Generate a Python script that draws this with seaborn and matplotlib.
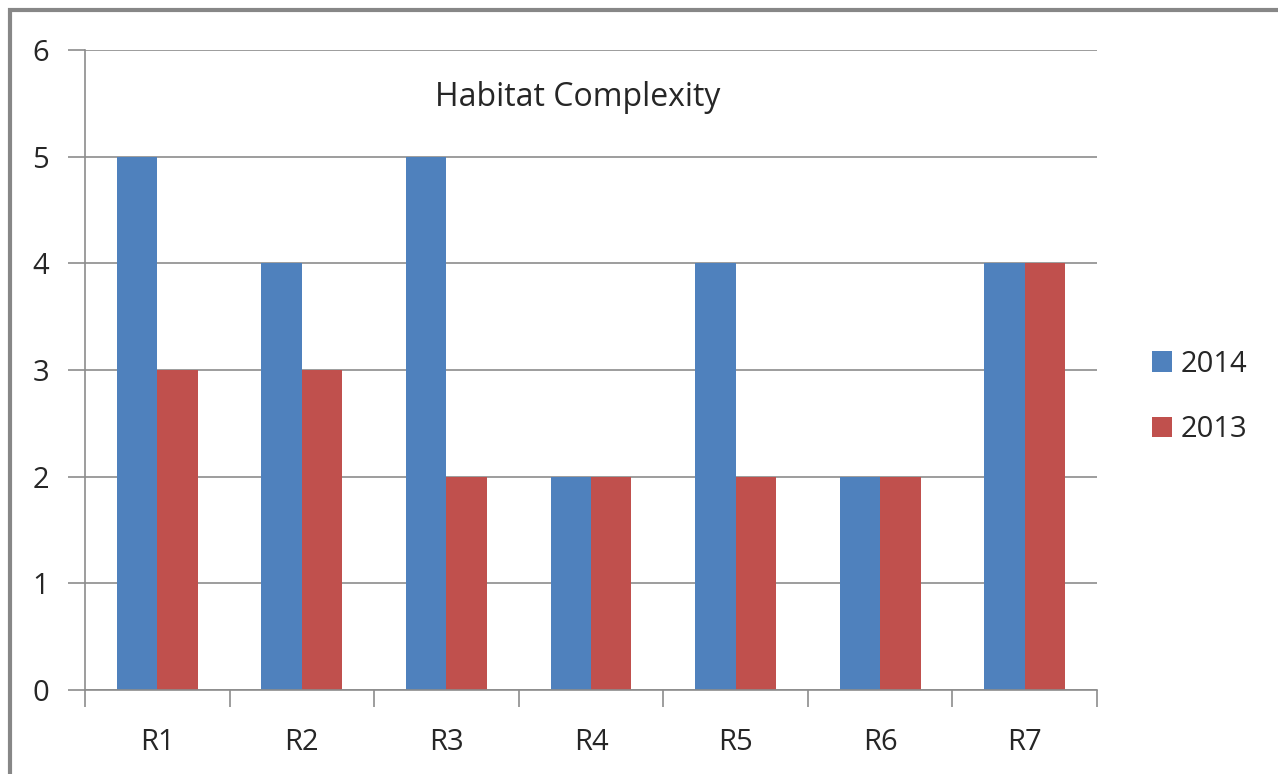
import pandas as pd
import seaborn as sns
import matplotlib.pyplot as plt
from matplotlib.patches import Rectangle

# data
regions = ['R1', 'R2', 'R3', 'R4', 'R5', 'R6', 'R7']
values_2014 = [5, 4, 5, 2, 4, 2, 4]
values_2013 = [3, 3, 2, 2, 2, 2, 4]
years = ['2014', '2013']
colors = ['#4F81BD', '#C0504D']

df = pd.DataFrame({
    'region': regions * 2,
    'value': values_2014 + values_2013,
    'year': ['2014'] * len(regions) + ['2013'] * len(regions),
})

sns.set_style('white')
plt.rcParams['font.family'] = ['Open Sans', 'DejaVu Sans']

fig = plt.figure(figsize=(12.78, 7.74), dpi=100)
ax = fig.add_axes([85 / 1278, 84 / 774, (1097 - 85) / 1278, (690 - 50) / 774])

sns.barplot(data=df, x='region', y='value', hue='year', hue_order=years,
            palette=colors, width=0.56, gap=0, saturation=1, ax=ax,
            edgecolor='none', linewidth=0)

grid_c = '#8c8c8c'
fs = 21
ax.set_ylim(0, 6)
ax.set_xlim(-0.5, len(regions) - 0.5)
ax.set_yticks(range(0, 7))
ax.yaxis.grid(True, color=grid_c, linewidth=1.2)
ax.set_axisbelow(True)
for s in ['top', 'right']:
    ax.spines[s].set_visible(False)
for s in ['left', 'bottom']:
    ax.spines[s].set_color(grid_c)
    ax.spines[s].set_linewidth(1.2)
ax.tick_params(axis='y', length=12, width=1.2, color=grid_c, labelsize=fs, pad=14, left=True)
ax.tick_params(axis='x', which='major', length=0, labelsize=fs, pad=27)
ax.set_xticks([i - 0.5 for i in range(len(regions) + 1)], minor=True)
ax.tick_params(axis='x', which='minor', length=12, width=1.2, color=grid_c, bottom=True)
ax.set_xlabel('')
ax.set_ylabel('')

fig.text(578 / 1278, 1 - 97 / 774, 'Habitat Complexity', fontsize=23,
         ha='center', va='center')

leg = ax.legend(loc='center left', bbox_to_anchor=(1.028, 0.458), frameon=False,
                fontsize=fs, handlelength=0.7, handleheight=0.7,
                handletextpad=0.3, labelspacing=1.25, title=None)

# outer chart frame (only left and top edges visible)
fig.patches.append(Rectangle((10 / 1278, -0.05), 1.2, 1 - 10 / 774 + 0.05,
                             transform=fig.transFigure, fill=False,
                             edgecolor='#878787', linewidth=3))

fig.savefig('out.png', dpi=100)
